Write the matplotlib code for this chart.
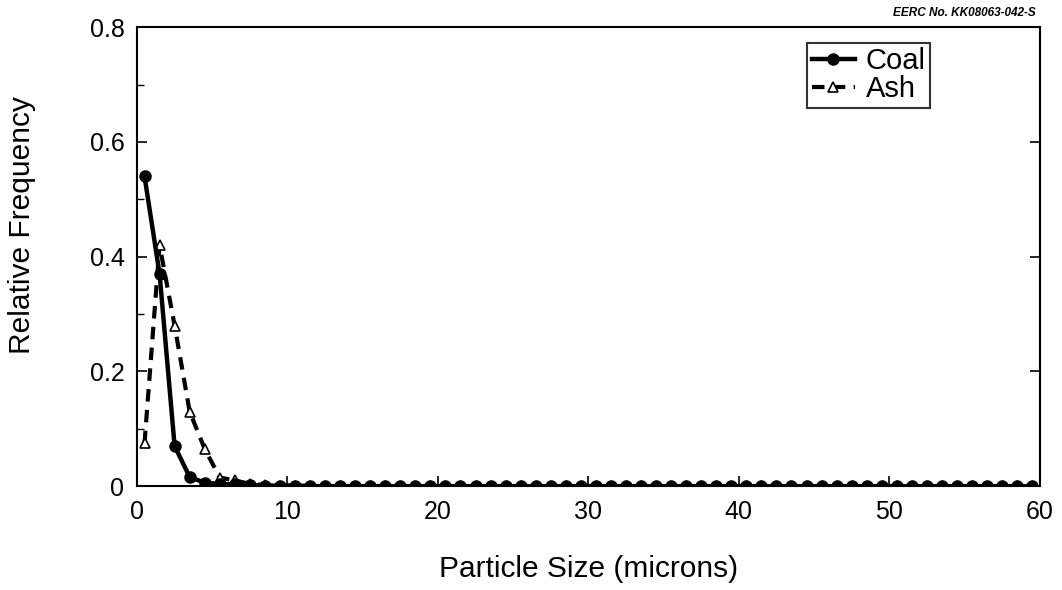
import matplotlib
matplotlib.use("Agg")
import matplotlib.pyplot as plt
from matplotlib.ticker import MultipleLocator

plt.rcParams['font.family'] = ['Liberation Sans', 'DejaVu Sans']

sizes = [0.5, 1.5, 2.5, 3.5, 4.5, 5.5, 6.5, 7.5, 8.5, 9.5,
         10.5, 11.5, 12.5, 13.5, 14.5, 15.5, 16.5, 17.5, 18.5, 19.5,
         20.5, 21.5, 22.5, 23.5, 24.5, 25.5, 26.5, 27.5, 28.5, 29.5,
         30.5, 31.5, 32.5, 33.5, 34.5, 35.5, 36.5, 37.5, 38.5, 39.5,
         40.5, 41.5, 42.5, 43.5, 44.5, 45.5, 46.5, 47.5, 48.5, 49.5,
         50.5, 51.5, 52.5, 53.5, 54.5, 55.5, 56.5, 57.5, 58.5, 59.5]
coal = [0.54, 0.37, 0.07, 0.016, 0.006, 0.004, 0.003, 0.002, 0.001, 0.001,
        0.001, 0, 0, 0, 0, 0, 0, 0, 0, 0,
        0, 0, 0, 0, 0, 0, 0, 0, 0, 0,
        0, 0, 0, 0, 0, 0, 0, 0, 0, 0,
        0, 0, 0, 0, 0, 0, 0, 0, 0, 0,
        0, 0, 0, 0, 0, 0, 0, 0, 0, 0]
ash = [0.075, 0.42, 0.28, 0.13, 0.065, 0.015, 0.01, 0.004, 0.002, 0.001,
       0.001, 0, 0, 0, 0, 0, 0, 0, 0, 0,
       0, 0, 0, 0, 0, 0, 0, 0, 0, 0,
       0, 0, 0, 0, 0, 0, 0, 0, 0, 0,
       0, 0, 0, 0, 0, 0, 0, 0, 0, 0,
       0, 0, 0, 0, 0, 0, 0, 0, 0, 0]
y_ticks = [0, 0.2, 0.4, 0.6, 0.8]
y_tick_labels = ['0', '0.2', '0.4', '0.6', '0.8']

fig = plt.figure(figsize=(10.62, 5.9), dpi=100)
ax = fig.add_axes([0.129, 0.176, 0.850, 0.778])

ax.plot(sizes, ash, color='black', linestyle=(0, (3, 2)), linewidth=3,
        marker='^', markersize=7, markerfacecolor='white',
        markeredgecolor='black', markeredgewidth=1.2, label='Ash', zorder=2)
ax.plot(sizes, coal, color='black', linestyle='-', linewidth=3.2,
        marker='o', markersize=8, markerfacecolor='black',
        markeredgecolor='black', label='Coal', zorder=3)

ax.set_xlim(0, 60)
ax.set_ylim(0, 0.8)
ax.xaxis.set_major_locator(MultipleLocator(10))
ax.yaxis.set_minor_locator(MultipleLocator(0.1))
ax.set_yticks(y_ticks)
ax.set_yticklabels(y_tick_labels)

ax.tick_params(axis='both', which='major', direction='in', length=7, width=1.2,
               labelsize=18, right=True, top=False)
ax.tick_params(axis='x', which='major', pad=10)
ax.tick_params(axis='y', which='major', pad=9)
ax.tick_params(axis='y', which='minor', direction='in', length=5, width=1, right=False)
for s in ax.spines.values():
    s.set_linewidth(1.5)

ax.set_xlabel('Particle Size (microns)', fontsize=21.5, labelpad=22)
ax.set_ylabel('Relative Frequency', fontsize=21.5, va='center')
ax.yaxis.set_label_coords(-0.127, 0.569)

handles, labels = ax.get_legend_handles_labels()
leg = ax.legend(handles[::-1], labels[::-1], loc='upper right',
                bbox_to_anchor=(0.888, 0.985), fontsize=21, frameon=True,
                fancybox=False, edgecolor='black', handlelength=1.5,
                handletextpad=0.35, borderpad=0.15, labelspacing=0.0,
                borderaxespad=0.3)
leg.get_frame().set_linewidth(1.5)

fig.text(0.975, 0.968, 'EERC No. KK08063-042-S', ha='right', va='bottom',
         fontsize=8.5, fontstyle='italic', fontweight='bold')

fig.savefig('out.png', dpi=100)
